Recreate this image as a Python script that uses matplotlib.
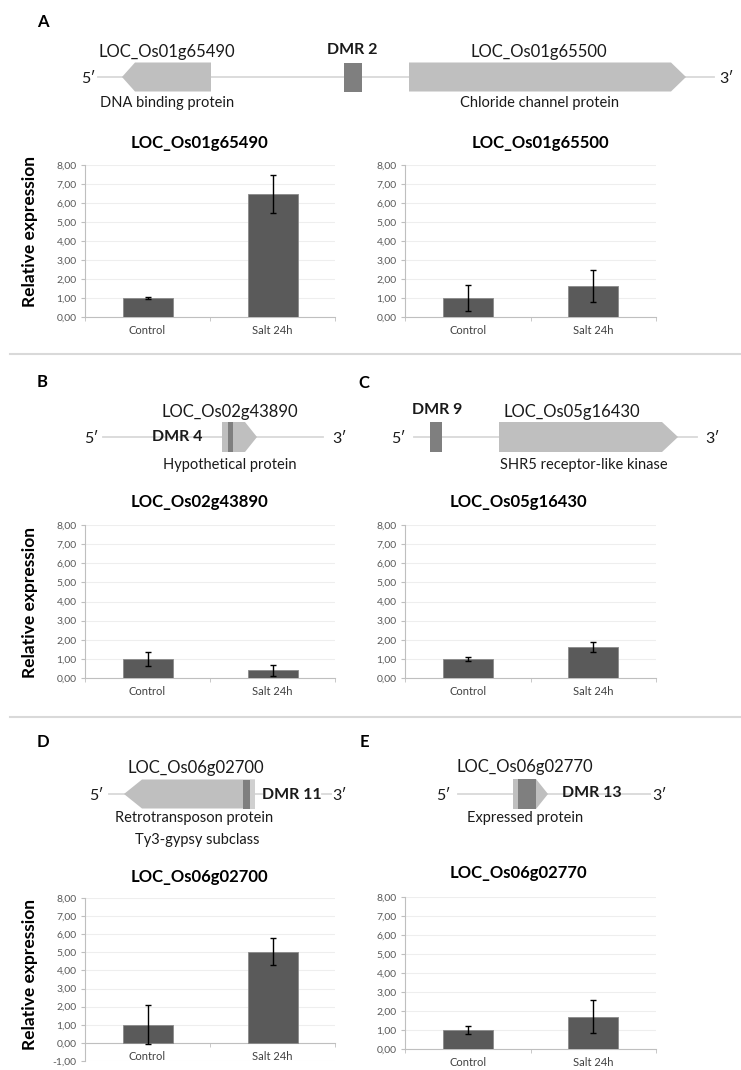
import matplotlib.pyplot as plt
from matplotlib.patches import Polygon, Rectangle
from matplotlib.ticker import FuncFormatter, MultipleLocator

plt.rcParams['font.family'] = ['Lato', 'DejaVu Sans']

W, H = 741, 1070

# datos de expresion relativa (qPCR)
categories = ["Control", "Salt 24h"]
genes = ["LOC_Os01g65490", "LOC_Os01g65500", "LOC_Os02g43890",
         "LOC_Os05g16430", "LOC_Os06g02700", "LOC_Os06g02770"]
expr_65490 = [1.00, 6.45]
err_65490 = [0.07, 1.00]
expr_65500 = [1.00, 1.62]
err_65500 = [0.71, 0.84]
expr_43890 = [1.00, 0.40]
err_43890 = [0.35, 0.27]
expr_16430 = [1.00, 1.62]
err_16430 = [0.10, 0.26]
expr_02700 = [1.00, 5.03]
err_02700 = [1.08, 0.75]
expr_02770 = [1.00, 1.70]
err_02770 = [0.20, 0.87]

LIGHT = '#bfbfbf'
DARK = '#7f7f7f'
LINE = '#d9d9d9'


def rect(x0, y0, x1, y1):
    return [x0 / W, 1 - y1 / H, (x1 - x0) / W, (y1 - y0) / H]


fig = plt.figure(figsize=(W / 100, H / 100), dpi=100)

# capa de fondo en pixeles para los esquemas de genes
bg = fig.add_axes([0, 0, 1, 1])
bg.set_xlim(0, W)
bg.set_ylim(H, 0)
bg.axis('off')


def txt(x, y, s, size=11.5, bold=False, **kw):
    bg.text(x, y, s, fontsize=size, fontweight='bold' if bold else 'normal',
            ha=kw.pop('ha', 'center'), va=kw.pop('va', 'center'), color=kw.pop('color', '#1a1a1a'), **kw)


def strand(x0, x1, y, xl5, xl3):
    bg.plot([x0, x1], [y, y], color=LINE, lw=1.3, zorder=1)
    txt(xl5, y + 2, "5\u2032", size=11.5)
    txt(xl3, y + 2, "3\u2032", size=11.5)


def gene(x0, x1, yc, h, tip, direction, color=LIGHT):
    t, b = yc - h / 2, yc + h / 2
    if direction == 'left':
        pts = [(x0, yc), (x0 + tip, t), (x1, t), (x1, b), (x0 + tip, b)]
    else:
        pts = [(x0, t), (x1 - tip, t), (x1, yc), (x1 - tip, b), (x0, b)]
    bg.add_patch(Polygon(pts, closed=True, fc=color, ec='none', zorder=2))


def box(x0, x1, yc, h, color=DARK):
    bg.add_patch(Rectangle((x0, yc - h / 2), x1 - x0, h, fc=color, ec='none', zorder=3))


# separadores
for ys in (354, 717):
    bg.plot([10, W], [ys, ys], color=LINE, lw=1.5)

# letras de panel
for lab, x, y in [("A", 43, 22), ("B", 42, 382), ("C", 364, 383), ("D", 43, 742), ("E", 364, 742)]:
    txt(x, y, lab, size=12, bold=True, color='black')

# A
strand(98, 714, 77, 88, 727)
gene(122, 211, 77, 29, 13, 'left')
box(344, 362, 77, 29)
gene(409, 686, 77, 29, 15, 'right')
txt(167, 52, "LOC_Os01g65490", size=12)
txt(167, 103, "DNA binding protein", size=10.5)
txt(352, 50, "DMR 2", bold=True)
txt(539, 52, "LOC_Os01g65500", size=12)
txt(539, 103, "Chloride channel protein", size=10.5)

# B
strand(103, 323, 437, 91, 340)
gene(222, 257, 437, 30, 12, 'right')
box(228, 233, 437, 30)
txt(230, 412, "LOC_Os02g43890", size=12)
txt(177, 437, "DMR 4", bold=True)
txt(230, 465, "Hypothetical protein", size=10.5)

# C
strand(414, 697, 437, 398, 713)
box(430, 442, 437, 30)
gene(499, 678, 437, 30, 16, 'right')
txt(437, 410, "DMR 9", bold=True)
txt(572, 412, "LOC_Os05g16430", size=12)
txt(584, 465, "SHR5 receptor-like kinase", size=10.5)

# D
strand(109, 262, 794, 96, 340)
gene(124, 255, 794, 29, 18, 'left')
box(250, 255, 794, 29, color='#d0d0d0')
box(243, 250, 794, 29)
txt(196, 768, "LOC_Os06g02700", size=12)
txt(292, 795, "DMR 11", bold=True)
txt(194, 818, "Retrotransposon protein", size=10.5)
txt(197, 840, "Ty3-gypsy subclass", size=10.5)
bg.plot([322, 331], [794, 794], color=LINE, lw=1.3)

# E
strand(458, 650, 794, 443, 660)
box(513, 518, 794, 30, color=LIGHT)
box(518, 536, 794, 30)
gene(536, 548, 794, 30, 12, 'right')
txt(525, 767, "LOC_Os06g02770", size=12)
txt(592, 793, "DMR 13", bold=True)
txt(525, 818, "Expressed protein", size=10.5)


fmt = FuncFormatter(lambda v, p: f"{v:.2f}".replace('.', ','))


def bar_chart(pos, title, tpos, vals, errs, ylab=None, ymin=0):
    ax = fig.add_axes(rect(*pos))
    x = range(len(categories))
    ax.bar(x, vals, width=0.4, color='#5a5a5a', edgecolor='#8a8a8a', lw=0.6, zorder=3)
    ax.errorbar(x, vals, yerr=errs, fmt='none', ecolor='black', elinewidth=1,
                capsize=2.2, capthick=1, zorder=4)
    ax.set_xlim(-0.5, 1.5)
    ax.set_ylim(ymin, 8)
    ax.yaxis.set_major_locator(MultipleLocator(1))
    ax.yaxis.set_major_formatter(fmt)
    ax.set_xticks(list(x))
    ax.set_xticklabels(categories)
    ax.set_xticks([-0.5, 0.5, 1.5], minor=True)
    ax.grid(axis='y', color='#eeeeee', lw=0.8, zorder=0)
    for s in ('top', 'right'):
        ax.spines[s].set_visible(False)
    for s in ('left', 'bottom'):
        ax.spines[s].set_color('#bfbfbf')
    if ymin < 0:
        ax.spines['bottom'].set_position(('data', 0))
    ax.tick_params(axis='y', length=3, color='#bfbfbf', labelsize=7.5, labelcolor='#595959', pad=3)
    ax.tick_params(axis='x', which='major', length=0, labelsize=8, labelcolor='#404040', pad=5.5)
    ax.tick_params(axis='x', which='minor', length=3, color='#bfbfbf')
    fig.text(tpos[0] / W, 1 - tpos[1] / H, title, fontsize=12, fontweight='bold',
             ha='center', va='center')
    if ylab is not None:
        fig.text(30 / W, 1 - ylab / H, "Relative expression", fontsize=12.5,
                 fontweight='bold', rotation=90, ha='center', va='center')
    return ax


bar_chart((85, 165, 335, 317), genes[0], (199, 143), expr_65490, err_65490, ylab=232)
bar_chart((405, 165, 656, 317), genes[1], (540, 143), expr_65500, err_65500)
bar_chart((85, 525, 335, 678), genes[2], (199, 502), expr_43890, err_43890, ylab=603)
bar_chart((405, 525, 656, 678), genes[3], (518, 502), expr_16430, err_16430)
bar_chart((85, 898, 335, 1061), genes[4], (199, 877), expr_02700, err_02700, ylab=975, ymin=-1)
bar_chart((405, 897, 656, 1049), genes[5], (518, 873), expr_02770, err_02770)

plt.savefig("out.png", dpi=100)
